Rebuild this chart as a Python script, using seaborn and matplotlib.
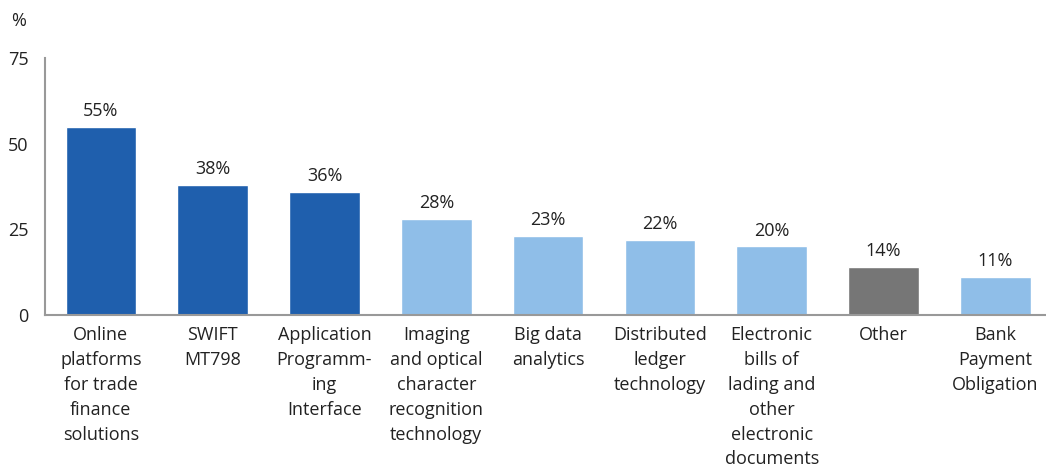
import matplotlib
matplotlib.use("Agg")
import matplotlib.pyplot as plt
import seaborn as sns
import pandas as pd

# Chart data
categories = [
    "Online\nplatforms\nfor trade\nfinance\nsolutions",
    "SWIFT\nMT798",
    "Application\nProgramm-\ning\nInterface",
    "Imaging\nand optical\ncharacter\nrecognition\ntechnology",
    "Big data\nanalytics",
    "Distributed\nledger\ntechnology",
    "Electronic\nbills of\nlading and\nother\nelectronic\ndocuments",
    "Other",
    "Bank\nPayment\nObligation",
]
values = [55, 38, 36, 28, 23, 22, 20, 14, 11]
groups = ["top", "top", "top", "rest", "rest", "rest", "rest", "other", "rest"]
y_ticks = [0, 25, 50, 75]

group_colors = {"top": "#1F5FAD", "rest": "#8FBEE8", "other": "#767676"}

sns.set_theme(style="white")
plt.rcParams["font.family"] = ["Open Sans", "DejaVu Sans"]

FS = 13

df = pd.DataFrame({"category": categories, "value": values, "group": groups})
palette = [group_colors[g] for g in groups]

fig = plt.figure(figsize=(10.46, 4.67), dpi=100)
ax = fig.add_axes([0.043, 0.3255, 0.962, 0.55])

sns.barplot(data=df, x="category", y="value", hue="category", palette=palette,
            legend=False, width=0.63, saturation=1, ax=ax)

for i, v in enumerate(values):
    ax.text(i, v + 2.0, f"{v}%", ha="center", va="bottom", fontsize=FS, color="#222222")

ax.set_ylim(0, 75)
ax.set_xlim(-0.5, 8.5)
ax.set_yticks(y_ticks)
ax.set_xlabel("")
ax.set_ylabel("")
ax.tick_params(axis="y", length=0, pad=12, labelsize=FS, labelcolor="#222222")
ax.tick_params(axis="x", length=0, pad=8, labelsize=FS, labelcolor="#222222")
for lbl in ax.get_xticklabels():
    lbl.set_linespacing(1.49)
    lbl.set_verticalalignment("top")

for side in ["top", "right"]:
    ax.spines[side].set_visible(False)
for side in ["left", "bottom"]:
    ax.spines[side].set_color("#999999")
    ax.spines[side].set_linewidth(1.5)

fig.text(0.011, 0.955, "%", fontsize=FS, color="#222222", va="center")

fig.savefig("out.png", dpi=100)
